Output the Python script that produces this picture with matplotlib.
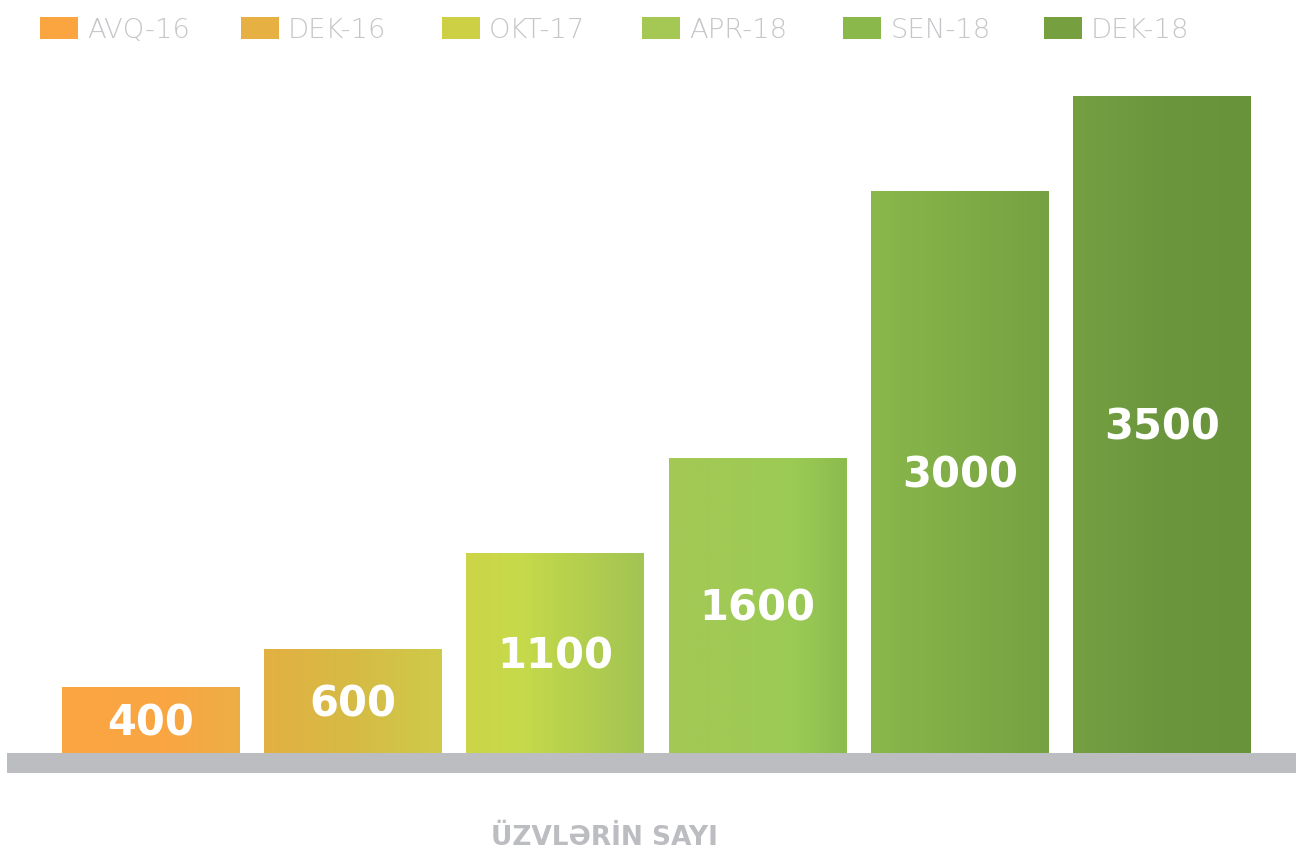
import matplotlib
matplotlib.use("Agg")
import matplotlib.pyplot as plt
import numpy as np
from matplotlib.colors import LinearSegmentedColormap
from matplotlib.patches import Patch

# ---- data ----
categories = ["AVQ-16", "DEK-16", "OKT-17", "APR-18", "SEN-18", "DEK-18"]
values = [400, 600, 1100, 1600, 3000, 3500]
xlabel = "ÜZVLƏRİN SAYI"

# ---- style ----
legend_colors = ["#fba541", "#e6b042", "#cdcf45", "#a4c853", "#8ab84a", "#76a040"]
gradients = [
    [(0.0, "#fba541"), (0.6, "#f9a642"), (1.0, "#edae46")],
    [(0.0, "#e3b042"), (0.5, "#d6bb45"), (1.0, "#cfca4a")],
    [(0.0, "#cdd448"), (0.3, "#c6da4a"), (1.0, "#a2c453")],
    [(0.0, "#a5c855"), (0.7, "#9bcb55"), (1.0, "#8cbb4e")],
    [(0.0, "#8ab84b"), (1.0, "#76a142")],
    [(0.0, "#74a042"), (0.5, "#6c963d"), (1.0, "#68933b")],
]
band_color = "#bcbdc1"
legend_text_color = "#c6c6ca"

W, H = 1296, 851
fig = plt.figure(figsize=(W / 100, H / 100), dpi=100)

ax_left_px, ax_right_px = 7, 1296
ax_bottom_px, ax_top_px = 773, 60
ax = fig.add_axes([ax_left_px / W, (H - ax_bottom_px) / H,
                   (ax_right_px - ax_left_px) / W, (ax_bottom_px - ax_top_px) / H])

px_per_unit = 0.1906
band_half = 10 / px_per_unit
x = np.arange(len(values))
ax.set_xlim(-0.712, 5.663)
ax.set_ylim(-band_half, (763 - ax_top_px) / px_per_unit)
ax.axis("off")

bars = ax.bar(x, values, width=0.88, color="none", edgecolor="none", zorder=2)
for bar, stops in zip(bars, gradients):
    cmap = LinearSegmentedColormap.from_list("g", stops)
    x0, y0 = bar.get_x(), bar.get_y()
    w, h = bar.get_width(), bar.get_height()
    grad = np.linspace(0, 1, 256).reshape(1, -1)
    im = ax.imshow(grad, cmap=cmap, aspect="auto", extent=(x0, x0 + w, y0, y0 + h),
                   zorder=2, interpolation="bicubic")
    im.set_clip_path(bar)

ax.axhspan(-band_half, band_half, color=band_color, zorder=3, lw=0)

label_size = 30
digit_px = label_size * 100 / 72 * 0.729
for xi, v in zip(x, values):
    ax.annotate(f"{v}", xy=(xi, (v + band_half) / 2), xytext=(0, -digit_px / 2),
                textcoords="offset pixels", ha="center", va="baseline",
                color="white", fontsize=label_size, fontweight="bold",
                family=["DejaVu Sans"], zorder=4)

ax.set_xlim(-0.712, 5.663)

# legend: one entry per slot, evenly spaced
leg_fs = 19.7
leg_px = leg_fs * 100 / 72
for i, (c, lab) in enumerate(zip(legend_colors, categories)):
    leg = fig.legend([Patch(facecolor=c, edgecolor="none")], [lab], loc="center left",
                     bbox_to_anchor=((40 + 200.8 * i) / W, 1 - 30 / H),
                     frameon=False, handlelength=38 / leg_px, handleheight=22 / leg_px,
                     handletextpad=9 / leg_px, borderpad=0, borderaxespad=0,
                     prop={"family": ["DejaVu Sans"], "weight": 200, "size": leg_fs})
    for t in leg.get_texts():
        t.set_color(legend_text_color)

fig.text(604 / W, 1 - 838 / H, xlabel, ha="center", va="center", color=band_color,
         fontsize=19, fontweight="bold", family=["DejaVu Sans"])

fig.savefig("out.png", dpi=100)
